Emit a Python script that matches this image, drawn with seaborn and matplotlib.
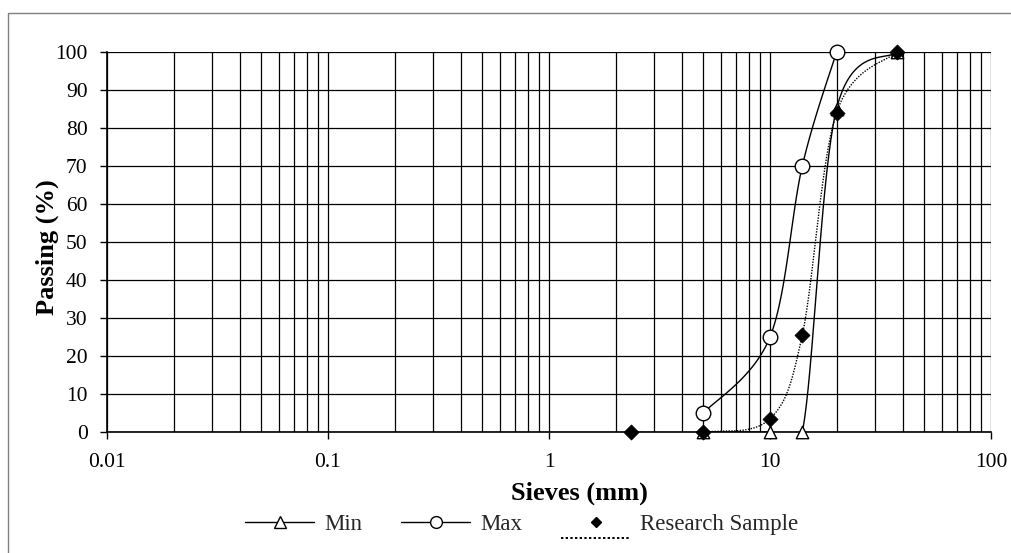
import numpy as np
import matplotlib
matplotlib.use("Agg")
import matplotlib.pyplot as plt
import seaborn as sns
from matplotlib.lines import Line2D
from matplotlib.patches import Rectangle
from matplotlib.legend_handler import HandlerLine2D, HandlerTuple

# ---- data ----
min_sieves = [5, 10, 14, 20, 37.5]
min_pass = [0, 0, 0, 85, 100]
max_sieves = [5, 10, 14, 20]
max_pass = [5, 25, 70, 100]
sample_sieves = [2.36, 5, 10, 14, 20, 37.5]
sample_pass = [0, 0, 3.5, 25.5, 84, 100]
x_ticks = [0.01, 0.1, 1, 10, 100]
x_tick_labels = ["0.01", "0.1", "1", "10", "100"]
y_ticks = [0, 10, 20, 30, 40, 50, 60, 70, 80, 90, 100]

sns.set_theme(style="white")
plt.rcParams['font.family'] = ['Liberation Serif', 'DejaVu Serif']

W, H = 1012, 553
fig = plt.figure(figsize=(W / 100, H / 100), dpi=100)
L, R, T, B = 107, 991, 52, 432
ax = fig.add_axes([L / W, 1 - B / H, (R - L) / W, (B - T) / H])

# figure border (left/top visible)
fig.patches.append(Rectangle((8 / W, -0.1), 1.2, 1 - 13 / H + 0.1, transform=fig.transFigure,
                             fill=False, edgecolor='#808080', linewidth=1.0, zorder=0))

AXW, AXH = R - L, B - T


def smooth(xs, ys, n=40):
    # Bezier smoothing in screen space (like spreadsheet smoothed lines)
    u = (np.log10(np.asarray(xs, float)) + 2) / 4 * AXW
    v = np.asarray(ys, float) / 100 * AXH
    P = np.column_stack([u, v])
    out = [P[0]]
    m = len(P)
    for i in range(m - 1):
        p0 = P[i - 1] if i > 0 else P[i]
        p1, p2 = P[i], P[i + 1]
        p3 = P[i + 2] if i + 2 < m else P[i + 1]
        c1 = p1 + (p2 - p0) / 6
        c2 = p2 - (p3 - p1) / 6
        t = np.linspace(0, 1, n)[1:, None]
        seg = ((1 - t) ** 3) * p1 + 3 * ((1 - t) ** 2) * t * c1 + 3 * (1 - t) * t ** 2 * c2 + t ** 3 * p2
        out.extend(seg)
    out = np.array(out)
    xs_s = 10 ** (out[:, 0] / AXW * 4 - 2)
    ys_s = out[:, 1] / AXH * 100
    return xs_s, ys_s


ax.set_xscale('log')
ax.set_xlim(0.01, 100)
ax.set_ylim(0, 100)

# grid
ax.grid(True, which='both', axis='x', color='black', linewidth=0.9)
ax.grid(True, which='major', axis='y', color='black', linewidth=0.9)
ax.set_axisbelow(True)

sx, sy = smooth(min_sieves, min_pass)
ax.plot(sx, sy, color='black', linewidth=1.0, zorder=3)
sx, sy = smooth(max_sieves, max_pass)
ax.plot(sx, sy, color='black', linewidth=1.0, zorder=3)
sx, sy = smooth(sample_sieves, sample_pass)
ax.plot(sx, sy, color='black', linewidth=1.0, linestyle=(0, (1, 1)), zorder=3)

sns.scatterplot(x=min_sieves, y=min_pass, ax=ax, marker='^', s=80, facecolor='white',
                edgecolor='black', linewidth=1.0, zorder=4, clip_on=False)
sns.scatterplot(x=max_sieves, y=max_pass, ax=ax, marker='o', s=110, facecolor='white',
                edgecolor='black', linewidth=1.0, zorder=5, clip_on=False)
sns.scatterplot(x=sample_sieves, y=sample_pass, ax=ax, marker='D', s=58, color='black',
                edgecolor='black', zorder=6, clip_on=False)

ax.set_xticks(x_ticks)
ax.set_xticklabels(x_tick_labels)
ax.set_yticks(y_ticks)
ax.tick_params(axis='both', which='major', direction='out', length=5, width=1, color='black',
               labelsize=15.5, labelcolor='black', bottom=True, left=True)
ax.tick_params(axis='x', which='minor', length=0)
ax.tick_params(axis='x', which='major', pad=10)
ax.tick_params(axis='y', which='major', pad=9)
for s in ['top', 'right']:
    ax.spines[s].set_visible(False)
for s in ['left', 'bottom']:
    ax.spines[s].set_color('black')
    ax.spines[s].set_linewidth(1.2)

ax.set_xlabel('Sieves (mm)', fontsize=19, fontweight='bold', color='black', va='center')
ax.set_ylabel('Passing (%)', fontsize=19, fontweight='bold', color='black', va='center')
ax.xaxis.set_label_coords((579 - L) / AXW, (B - 493) / AXH)
ax.yaxis.set_label_coords((47 - L) / AXW, (B - 247) / AXH)


class ShiftedLine(HandlerLine2D):
    def create_artists(self, legend, orig_handle, xdescent, ydescent, width, height, fontsize, trans):
        arts = super().create_artists(legend, orig_handle, xdescent, ydescent, width, height, fontsize, trans)
        for a in arts:
            a.set_ydata(np.asarray(a.get_ydata()) - 1.0 * height)
        return arts


dot_line = Line2D([], [], color='black', lw=1.4, linestyle=(0, (1.2, 1.2)))
dia_mark = Line2D([], [], color='black', lw=0, marker='D', markerfacecolor='black',
                  markeredgecolor='black', markersize=5.2)
handles = [
    Line2D([], [], color='black', lw=1, marker='^', markerfacecolor='white', markeredgecolor='black', markersize=8),
    Line2D([], [], color='black', lw=1, marker='o', markerfacecolor='white', markeredgecolor='black', markersize=8.5),
    (dot_line, dia_mark),
]
fig.legend(handles, ['Min', 'Max', 'Research Sample'], loc='center', bbox_to_anchor=(522 / W, 1 - 524 / H),
           ncol=3, frameon=False, fontsize=16.5, handlelength=3.0, columnspacing=1.7, handletextpad=0.45,
           handler_map={dot_line: ShiftedLine(), tuple: HandlerTuple(ndivide=1, pad=0)})

fig.savefig('out.png', dpi=100)
